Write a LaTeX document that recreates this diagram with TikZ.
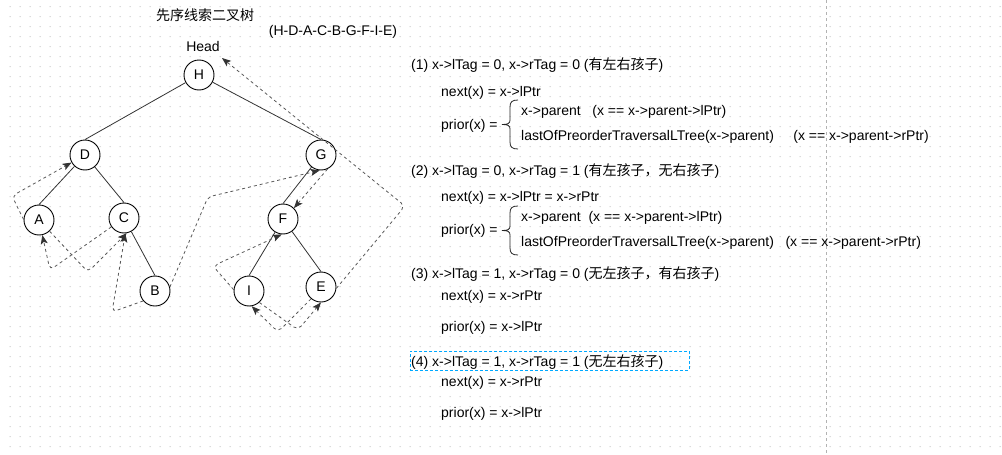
\documentclass[tikz,border=0pt]{standalone}
\usepackage{fontspec}
\setmainfont{Liberation Sans}
\newfontfamily\cjk{Noto Sans CJK SC}
\usetikzlibrary{arrows.meta}
\definecolor{selblue}{RGB}{0,168,255}
\begin{document}
\begin{tikzpicture}[x=1pt,y=-1pt,
  every node/.style={font=\fontsize{14}{16}\selectfont, inner sep=0pt, text=black},
  treenode/.style={circle, draw=black, line width=0.9pt, fill=white, minimum size=30pt, inner sep=0pt},
  treeedge/.style={draw=black!80, line width=0.8pt},
  thread/.style={draw=black!65, line width=0.8pt, dash pattern=on 3pt off 3pt, rounded corners=5pt,
    -{Stealth[length=9pt,width=7pt,inset=2pt,color=black!80,fill=black!80]}},
  txt/.style={anchor=west},
  curly/.pic={\draw[line width=0.8pt, black!85] (18,0) .. controls (12,0) and (10,2) .. (10,7) -- (10,20)
     .. controls (10,23.5) and (8,24.5) .. (2,24.5) .. controls (8,24.5) and (10,25.5) .. (10,29) -- (10,42)
     .. controls (10,47) and (12,49) .. (18,49);}
]
\useasboundingbox (0,0) rectangle (1002,455);
\fill[white] (0,0) rectangle (1002,455);
% dot grid
\fill[black!22] \foreach \i in {0,...,99}{ \foreach \j in {0,...,45}{ (\i*10+9.5,\j*10+6) rectangle ++(1,1) } };
% page break line
\draw[black!30, dash pattern=on 3pt off 3pt, line width=0.8pt] (826,0) -- (826,455);

% titles
\node (title) at (205,15) {\cjk 先序线索二叉树};
\node (order) at (333,32) {(H-D-A-C-B-G-F-I-E)};
\node (head) at (203,46) {Head};
\coordinate (hd) at (222,58);

% tree nodes
\node[treenode] (H) at (199,75) {H};
\node[treenode] (D) at (85,155) {D};
\node[treenode] (G) at (321,155) {G};
\node[treenode] (A) at (39,220) {A};
\node[treenode] (C) at (124,218) {C};
\node[treenode] (B) at (155,291) {B};
\node[treenode] (F) at (283,219) {F};
\node[treenode] (I) at (249,291) {I};
\node[treenode] (E) at (321,287) {E};

% tree edges
\draw[treeedge] (H) -- (D.north);
\draw[treeedge] (H) -- (G.north);
\draw[treeedge] (D) -- (A.north);
\draw[treeedge] (D) -- (C.north);
\draw[treeedge] (C) -- (B.north);
\draw[treeedge] (G) -- (F.north);
\draw[treeedge] (F) -- (I.north);
\draw[treeedge] (F) -- (E.north);

% threads
\draw[thread] (A.178) -- (12,196) -- (D);
\draw[thread] (A) -- (88,272) -- (C.280);
\draw[thread] (C) -- (50,270) -- (A);
\draw[thread] (B.220) -- (112,312) -- (C.275);
\draw[thread] (B.15) -- (208,197) -- (G.265);
\draw[thread] (G.295) -- (F.45);
\draw[thread] (E.355) -- (405,206) -- (hd);
\draw[thread] (I.175) -- (213,266) -- (F.265);
\draw[thread] (I.312) -- (298,330) -- (E.270);
\draw[thread] (E.230) -- (278,332) -- (I.280);

% case 1
\node[txt] (c1) at (411,65) {(1) x->lTag = 0, x->rTag = 0 ({\cjk 有左右孩子})};
\node[txt] (n1) at (441,93) {next(x) = x->lPtr};
\node[txt] (p1) at (441,126) {prior(x) =};
\pic at (500,100) {curly};
\node[txt] (u1) at (521,112) {x->parent\ \ \ (x == x->parent->lPtr)};
\node[txt] (l1) at (521,137) {lastOfPreorderTraversalLTree(x->parent)\ \ \ \ \ (x == x->parent->rPtr)};

% case 2
\node[txt] (c2) at (411,171) {(2) x->lTag = 0, x->rTag = 1 ({\cjk 有左孩子，无右孩子})};
\node[txt] (n2) at (441,198) {next(x) = x->lPtr = x->rPtr};
\node[txt] (p2) at (441,231) {prior(x) =};
\pic at (500,206) {curly};
\node[txt] (u2) at (521,218) {x->parent\ \ (x == x->parent->lPtr)};
\node[txt] (l2) at (521,243) {lastOfPreorderTraversalLTree(x->parent)\ \ \ (x == x->parent->rPtr)};

% case 3
\node[txt] (c3) at (411,274) {(3) x->lTag = 1, x->rTag = 0 ({\cjk 无左孩子，有右孩子})};
\node[txt] (n3) at (441,297) {next(x) = x->rPtr};
\node[txt] (p3) at (441,328) {prior(x) = x->lPtr};

% case 4
\node[draw=selblue, dash pattern=on 3pt off 2pt, line width=0.8pt, minimum width=279pt, minimum height=19pt, anchor=north west] (sel) at (410,351) {};
\node[txt] (c4) at (411,362) {(4) x->lTag = 1, x->rTag = 1 ({\cjk 无左右孩子})};
\node[txt] (n4) at (441,383) {next(x) = x->rPtr};
\node[txt] (p4) at (441,414) {prior(x) = x->lPtr};
\end{tikzpicture}
\end{document}
